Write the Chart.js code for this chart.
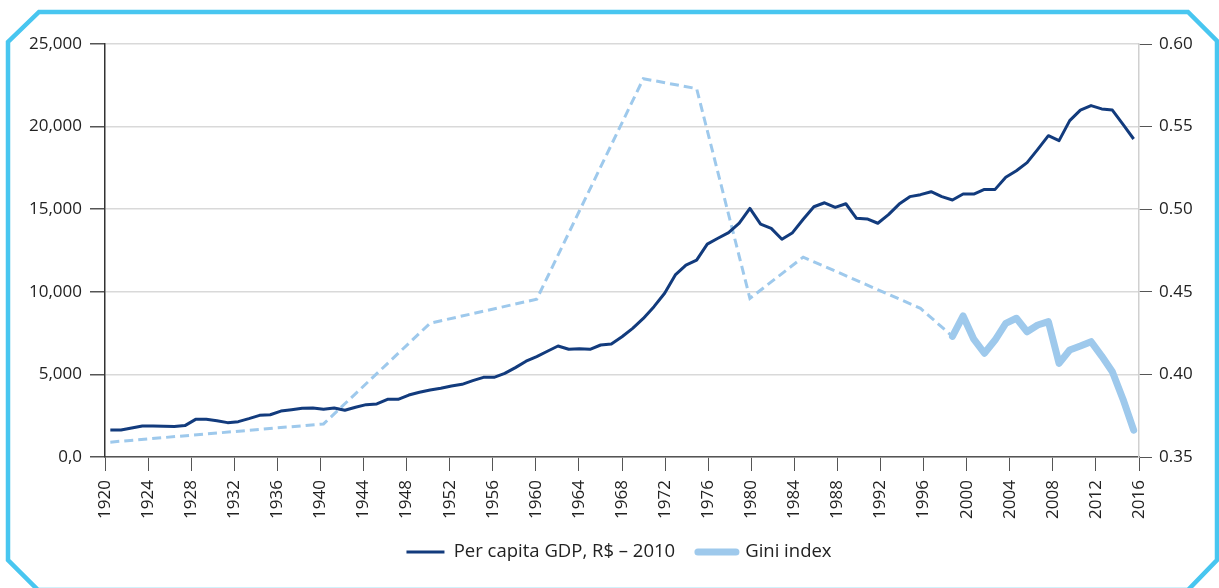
<!DOCTYPE html>
<html>
<head>
<meta charset="utf-8">
<script src="https://cdn.jsdelivr.net/npm/chart.js@4.4.1/dist/chart.umd.min.js"></script>
<style>
  html, body { margin: 0; padding: 0; background: #fff; }
  #wrap { position: relative; width: 1219px; height: 588px; overflow: hidden; }
  #frame { position: absolute; left: 0; top: 0; pointer-events: none; }
</style>
</head>
<body>
<div id="wrap">
  <canvas id="gdpGini"></canvas>
  <svg id="frame" width="1219" height="588">
    <polygon points="39,12 1188,12 1217,41 1217,560 1188,590 38,590 8,560 8,42"
             fill="none" stroke="#48c6f0" stroke-width="4.5" stroke-linejoin="miter"/>
  </svg>
</div>
<script>
// categories: one per year, 1920-2016
const years = Array.from({ length: 97 }, (_, i) => String(1920 + i));

// per capita GDP, R$ 2010
const gdpValues = [
  1630, 1630, 1750, 1880, 1880, 1860, 1840, 1900, 2280, 2280,   // 1920-1929
  2200, 2080, 2140, 2320, 2520, 2560, 2780, 2860, 2950, 2970,   // 1930-1939
  2890, 2970, 2830, 3010, 3170, 3210, 3490, 3490, 3750, 3920,   // 1940-1949
  4060, 4160, 4300, 4400, 4620, 4820, 4820, 5060, 5410, 5800,   // 1950-1959
  6080, 6400, 6720, 6520, 6560, 6520, 6780, 6840, 7280, 7790,   // 1960-1969
  8390, 9100, 9910, 11020, 11620, 11920, 12890, 13240, 13580, 14150, // 1970-1979
  15050, 14100, 13840, 13180, 13580, 14390, 15150, 15390, 15110, 15330, // 1980-1989
  14450, 14410, 14150, 14670, 15310, 15760, 15880, 16060, 15760, 15560, // 1990-1999
  15920, 15920, 16200, 16200, 16930, 17330, 17820, 18620, 19450, 19150, // 2000-2009
  20360, 21000, 21270, 21070, 21000, 20130, 19250                        // 2010-2016
];

// Gini index: sparse survey years (dashed) and the annual series (solid)
const giniSparseYears  = ['1920', '1940', '1950', '1960', '1970', '1975', '1980', '1985', '1996', '1999'];
const giniSparseValues = [0.359, 0.370, 0.431, 0.4455, 0.579, 0.573, 0.446, 0.471, 0.440, 0.423];
const giniAnnualYears  = ['1999', '2000', '2001', '2002', '2003', '2004', '2005', '2006', '2007',
                          '2008', '2009', '2010', '2011', '2012', '2013', '2014', '2015', '2016'];
const giniAnnualValues = [0.423, 0.4354, 0.4213, 0.4128, 0.4208, 0.4309, 0.4340, 0.4258, 0.4299,
                          0.4319, 0.4067, 0.4148, 0.4172, 0.4198, 0.4111, 0.4016, 0.385, 0.3663];

// tick labels
const gdpTickLabels  = ['0,0', '5,000', '10,000', '15,000', '20,000', '25,000'];
const giniTickLabels = ['0.35', '0.40', '0.45', '0.50', '0.55', '0.60'];
const legendLabels   = ['Per capita GDP, R$ \u2013 2010', 'Gini index'];

const DARK = '#123b7d';
const LIGHT = '#9ec9ec';
const TEXT = '#222';
const FAMILY = "'Open Sans', 'Noto Sans', sans-serif";
const FONT = { family: FAMILY, size: 17 };

new Chart(document.getElementById('gdpGini'), {
  type: 'line',
  data: {
    labels: years,
    datasets: [
      { label: legendLabels[0], data: gdpValues, xAxisID: 'xd', yAxisID: 'y',
        borderColor: DARK, borderWidth: 3, pointRadius: 0, tension: 0, borderJoinStyle: 'round' },
      { label: 'gini-sparse', data: giniSparseYears.map((y, i) => ({ x: y, y: giniSparseValues[i] })),
        xAxisID: 'xd', yAxisID: 'y1', borderColor: LIGHT, borderWidth: 3, borderDash: [9, 5],
        pointRadius: 0, tension: 0, spanGaps: true },
      { label: legendLabels[1], data: giniAnnualYears.map((y, i) => ({ x: y, y: giniAnnualValues[i] })),
        xAxisID: 'xd', yAxisID: 'y1', borderColor: LIGHT, borderWidth: 7, pointRadius: 0, tension: 0,
        borderCapStyle: 'round', borderJoinStyle: 'round' }
    ]
  },
  options: {
    responsive: true,
    maintainAspectRatio: false,
    animation: false,
    layout: { padding: { left: 19, right: 0, top: 44, bottom: 16.75 } },
    plugins: {
      tooltip: { enabled: false },
      legend: {
        position: 'bottom',
        labels: {
          usePointStyle: true,
          pointStyleWidth: 38,
          padding: 22.75,
          font: { family: FAMILY, size: 18.5 },
          color: TEXT,
          generateLabels: () => [
            { text: legendLabels[0], strokeStyle: DARK, fillStyle: DARK, lineWidth: 3, pointStyle: 'line',
              lineCap: 'butt', fontColor: TEXT, hidden: false, datasetIndex: 0 },
            { text: legendLabels[1], strokeStyle: LIGHT, fillStyle: LIGHT, lineWidth: 7, pointStyle: 'line',
              lineCap: 'round', fontColor: TEXT, hidden: false, datasetIndex: 2 }
          ]
        }
      }
    },
    scales: {
      xd: { type: 'category', display: false, offset: true },
      x: {
        type: 'linear', position: 'bottom', min: 1920, max: 2016,
        afterFit: s => { s.height = 63; },
        grid: { drawOnChartArea: false, drawTicks: true, tickLength: 14, tickColor: '#555' },
        border: { display: true, color: '#555', width: 1.5 },
        ticks: { stepSize: 4, autoSkip: false, minRotation: 90, maxRotation: 90, padding: 9,
                 font: FONT, color: TEXT, callback: v => String(v) }
      },
      y: {
        position: 'left', min: 0, max: 25000,
        afterFit: s => { s.width = 86; },
        grid: { color: '#d9d9d9', lineWidth: 1.5, tickColor: '#555', tickLength: 15 },
        border: { display: true, color: '#333', width: 1.5 },
        ticks: { stepSize: 5000, padding: 8, font: FONT, color: TEXT,
                 callback: (v, i) => gdpTickLabels[i] }
      },
      y1: {
        position: 'right', min: 0.35, max: 0.60,
        afterFit: s => { s.width = 80; },
        grid: { drawOnChartArea: false, tickColor: '#555', tickLength: 13 },
        border: { display: true, color: '#d0d0d0', width: 1.5 },
        ticks: { stepSize: 0.05, padding: 7, font: FONT, color: TEXT,
                 callback: (v, i) => giniTickLabels[i] }
      }
    }
  }
});
</script>
</body>
</html>
